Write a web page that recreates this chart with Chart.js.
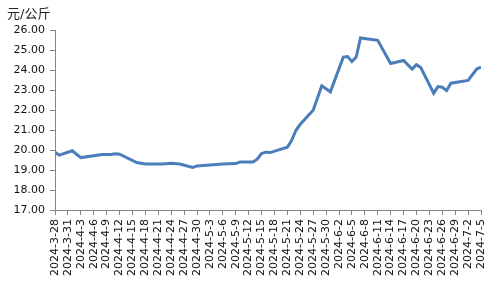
<!DOCTYPE html>
<html>
<head>
<meta charset="utf-8">
<script src="https://cdn.jsdelivr.net/npm/chart.js@4.4.1/dist/chart.umd.min.js"></script>
<style>
html,body{margin:0;padding:0;background:#fff;}
#wrap{width:500px;height:300px;}
</style>
</head>
<body>
<div id="wrap"><canvas id="c" width="500" height="300"></canvas></div>
<script>
const unitLabel = '元/公斤';
const startDate = '2024-03-28';
const dates = ['2024-03-28','2024-03-29','2024-04-01','2024-04-03','2024-04-08','2024-04-10','2024-04-11','2024-04-12','2024-04-16','2024-04-18','2024-04-22','2024-04-24','2024-04-26','2024-04-29','2024-04-30','2024-05-06','2024-05-09','2024-05-10','2024-05-13','2024-05-14','2024-05-15','2024-05-16','2024-05-17','2024-05-21','2024-05-22','2024-05-23','2024-05-24','2024-05-27','2024-05-29','2024-05-31','2024-06-03','2024-06-04','2024-06-05','2024-06-06','2024-06-07','2024-06-11','2024-06-14','2024-06-17','2024-06-19','2024-06-20','2024-06-21','2024-06-24','2024-06-25','2024-06-26','2024-06-27','2024-06-28','2024-07-02','2024-07-04','2024-07-05'];
const prices = [19.90,19.75,19.97,19.63,19.78,19.78,19.82,19.80,19.38,19.31,19.31,19.34,19.31,19.13,19.21,19.31,19.33,19.41,19.41,19.55,19.83,19.90,19.88,20.15,20.50,21.00,21.30,22.00,23.23,22.93,24.67,24.70,24.45,24.67,25.63,25.51,24.35,24.50,24.07,24.29,24.15,22.86,23.19,23.16,22.99,23.36,23.50,24.07,24.17];
const tickLabels = ['2024-3-28','2024-3-31','2024-4-3','2024-4-6','2024-4-9','2024-4-12','2024-4-15','2024-4-18','2024-4-21','2024-4-24','2024-4-27','2024-4-30','2024-5-3','2024-5-6','2024-5-9','2024-5-12','2024-5-15','2024-5-18','2024-5-21','2024-5-24','2024-5-27','2024-5-30','2024-6-2','2024-6-5','2024-6-8','2024-6-11','2024-6-14','2024-6-17','2024-6-20','2024-6-23','2024-6-26','2024-6-29','2024-7-2','2024-7-5'];
const yMin = 17, yMax = 26, yStep = 1;

function dayIndex(s){
  const p = s.split('-').map(Number), q = startDate.split('-').map(Number);
  return Math.round((Date.UTC(p[0],p[1]-1,p[2]) - Date.UTC(q[0],q[1]-1,q[2]))/86400000);
}
const points = dates.map((d,i)=>({x:dayIndex(d), y:prices[i]}));
const lastDay = (tickLabels.length-1)*3;

const FONT = "'DejaVu Sans', 'Noto Sans CJK SC', sans-serif";
const axisColor = '#868686';

new Chart(document.getElementById('c'), {
  type: 'line',
  data: { datasets: [{
    data: points,
    borderColor: '#4A7EBB',
    borderWidth: 3,
    pointRadius: 0,
    tension: 0,
    fill: false
  }]},
  options: {
    responsive: false,
    animation: false,
    layout: { padding: { left: 7, right: 19, top: 0, bottom: 0 } },
    plugins: {
      legend: { display: false },
      tooltip: { enabled: false },
      title: {
        display: true,
        text: unitLabel,
        align: 'start',
        color: '#222',
        font: { family: FONT, size: 13, weight: 'normal' },
        padding: { top: 7, bottom: 8 }
      }
    },
    scales: {
      x: {
        type: 'linear',
        min: 0,
        max: lastDay,
        afterBuildTicks: s => { s.ticks = tickLabels.map((_, i) => ({ value: i*3 })); },
        afterFit: s => { s.height = 90; },
        ticks: {
          autoSkip: false,
          maxRotation: 90,
          minRotation: 90,
          padding: 4,
          color: '#111',
          font: { family: FONT, size: 11 },
          callback: (v, i) => tickLabels[i]
        },
        grid: { display: true, drawOnChartArea: false, tickLength: 5, color: axisColor },
        border: { display: true, color: axisColor, width: 1 }
      },
      y: {
        min: yMin,
        max: yMax,
        afterFit: s => { s.width = 48; },
        ticks: {
          stepSize: yStep,
          padding: 5,
          color: '#111',
          font: { family: FONT, size: 11 },
          callback: v => Number(v).toFixed(2)
        },
        grid: { display: true, drawOnChartArea: false, tickLength: 5, color: axisColor },
        border: { display: true, color: axisColor, width: 1 }
      }
    }
  }
});
</script>
</body>
</html>
